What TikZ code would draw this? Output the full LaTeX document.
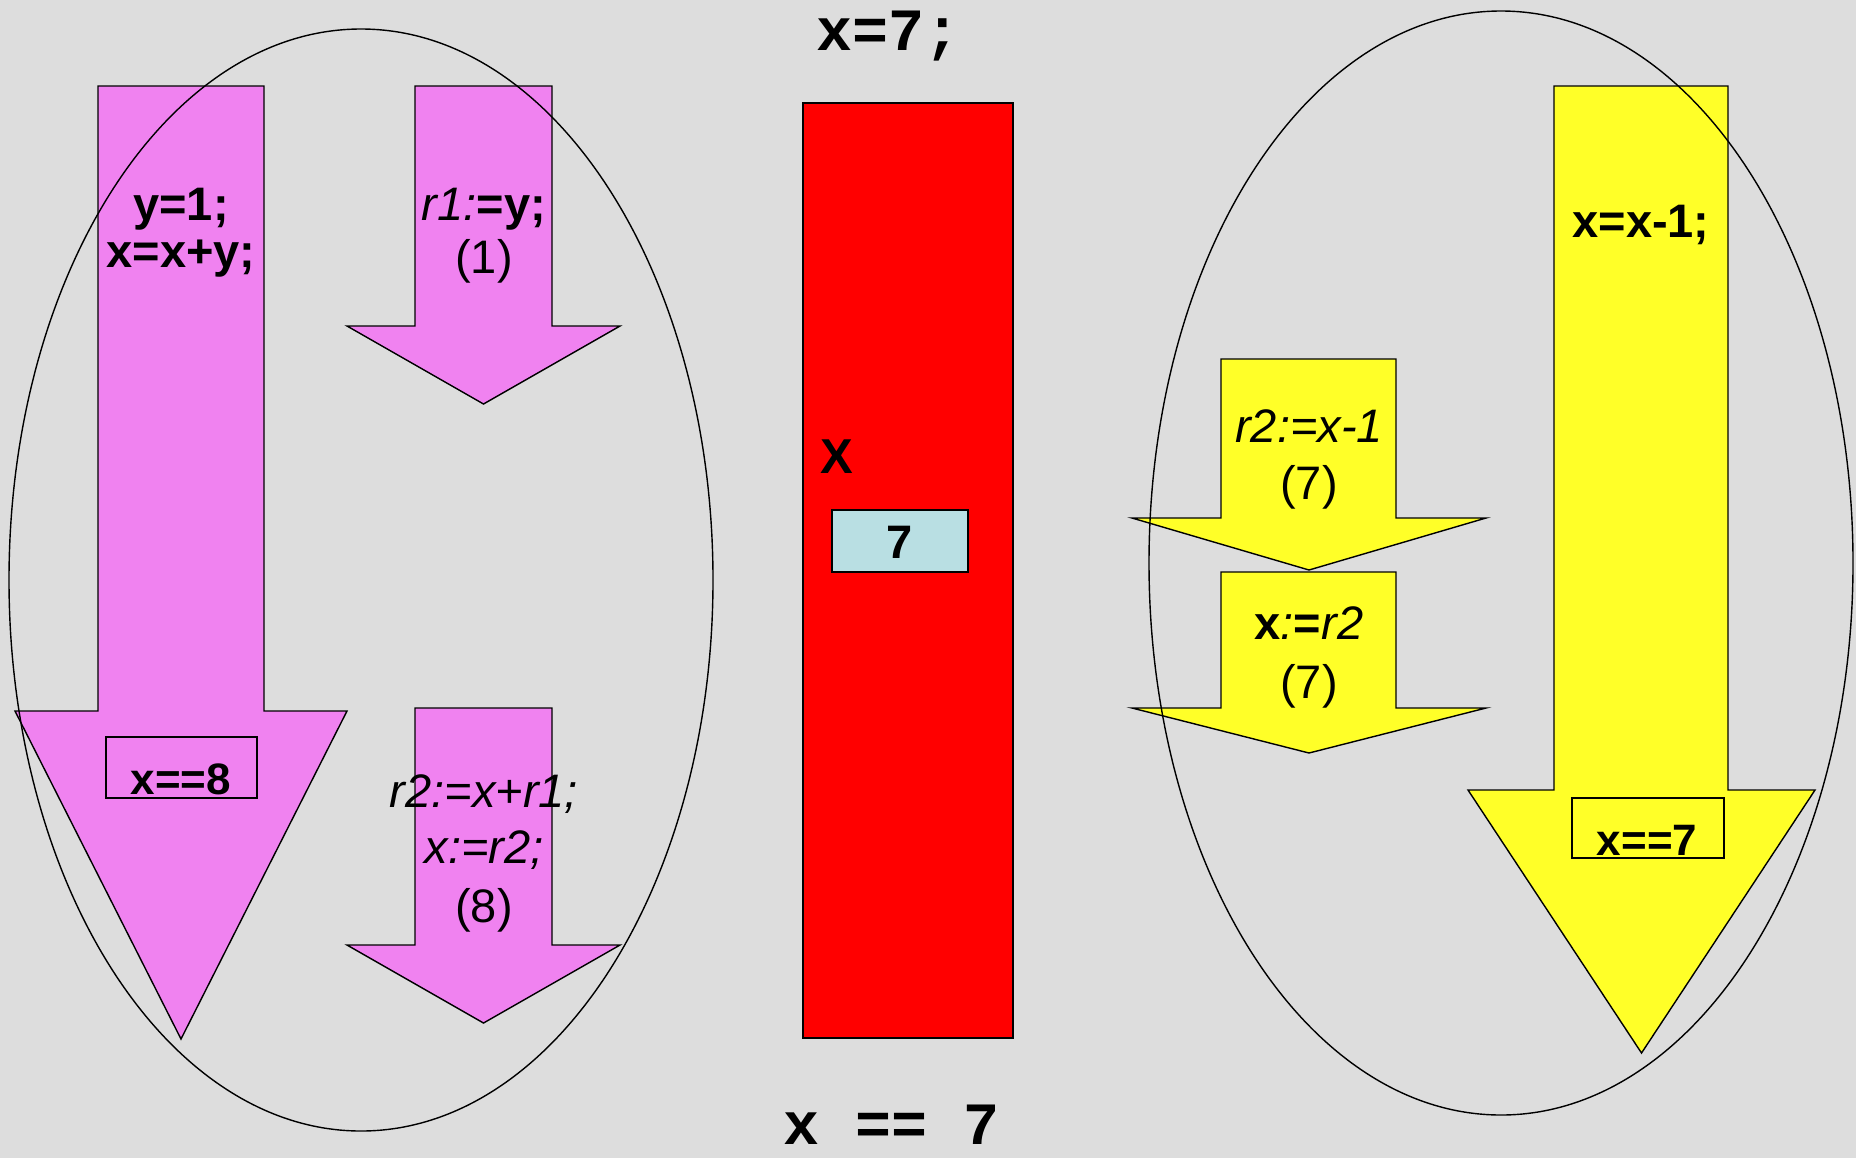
\documentclass[tikz,border=0pt]{standalone}
\usepackage{fontspec}
\setmainfont{Liberation Sans}
\newfontfamily\courfont{Liberation Mono}
\definecolor{bgc}{RGB}{221,221,221}
\definecolor{mag}{RGB}{240,130,240}
\definecolor{yel}{RGB}{255,255,40}
\definecolor{teal7}{RGB}{185,223,227}
\newcommand\dnarrow[8]{% color, x1, x2, ytop, yhead, hx1, hx2, tipy
  \filldraw[arrowshape, fill=#1] (#2,#4) -- (#3,#4) -- (#3,#5) -- (#7,#5)
    -- ({(#6+#7)/2},#8) -- (#6,#5) -- (#2,#5) -- cycle;}
\begin{document}
\begin{tikzpicture}[x=0.5pt, y=-0.5pt,
  arrowshape/.style={draw=black, line width=0.7pt, line join=miter},
  txt/.style={inner sep=0pt, anchor=base, font=\fontsize{23.5}{28}\selectfont},
  smalltxt/.style={inner sep=0pt, anchor=base, font=\fontsize{22}{26}\selectfont\bfseries},
  mono/.style={inner sep=0pt, anchor=base, font=\fontsize{30}{34}\selectfont\courfont\bfseries},
  ring/.style={draw=black, line width=0.7pt}]
\fill[bgc] (0,0) rectangle (1856,1158);
\useasboundingbox (0,0) rectangle (1856,1158);
% magenta arrows
\dnarrow{mag}{98}{264}{86}{711}{15}{347}{1039}
\dnarrow{mag}{415}{552}{86}{326}{347}{620}{404}
\dnarrow{mag}{415}{552}{708}{945}{347}{620}{1023}
% yellow arrows
\dnarrow{yel}{1554}{1728}{86}{790}{1468}{1815}{1053}
\dnarrow{yel}{1221}{1396}{359}{518}{1132}{1486}{570}
\dnarrow{yel}{1221}{1396}{572}{708}{1132}{1486}{753}
% memory cell
\node (mem) [fill=red, draw=black, line width=0.7pt, minimum width=105pt, minimum height=467.5pt, inner sep=0pt] at (908,570.5) {};
\node (xlab) [txt, font=\fontsize{24.5}{28}\selectfont\bfseries] at (837,473) {X};
\node (cell) [fill=teal7, draw=black, line width=0.7pt, minimum width=68pt, minimum height=31pt, inner sep=0pt] at (900,541) {};
\node (cellv) [txt, font=\fontsize{23.5}{28}\selectfont\bfseries] at (900,558) {7};
% assertion boxes
\node (box8) [draw=black, line width=0.7pt, minimum width=75.5pt, minimum height=30.5pt, inner sep=0pt] at (181.5,767.5) {};
\node (t8) [smalltxt] at (181,794) {x==8};
\node (box7) [draw=black, line width=0.7pt, minimum width=76pt, minimum height=30pt, inner sep=0pt] at (1648,828) {};
\node (t7) [smalltxt] at (1647,855) {x==7};
% texts in magenta arrows
\node (l1a) [txt, font=\fontsize{23.5}{28}\selectfont\bfseries] at (181,220) {y=1;};
\node (l1b) [txt, font=\fontsize{23.5}{28}\selectfont\bfseries] at (181,267) {x=x+y;};
\node (l2a) [txt] at (484,220) {\textit{r1:}\textbf{=y;}};
\node (l2b) [txt] at (484,273) {(1)};
\node (l3a) [txt] at (484,807) {\textit{r2:=x+r1;}};
\node (l3b) [txt] at (484,863) {\textit{x:=r2;}};
\node (l3c) [txt] at (484,922) {(8)};
% texts in yellow arrows
\node (y1a) [txt, font=\fontsize{23.5}{28}\selectfont\bfseries] at (1641,237) {x=x-1;};
\node (y2a) [txt] at (1309,442) {\textit{r2:=x-1}};
\node (y2b) [txt] at (1309,499) {(7)};
\node (y3a) [txt] at (1309,639) {\textbf{x}\textit{:}\textbf{=}\textit{r2}};
\node (y3b) [txt] at (1309,698) {(7)};
% code lines
\node (init) [mono] at (888,50) {x=7;};
\node (res) [mono] at (892,1144) {x == 7};
% thread ellipses
\draw[ring] (361,580) ellipse [x radius=176pt, y radius=275.5pt];
\draw[ring] (1501,563) ellipse [x radius=176pt, y radius=276pt];
\end{tikzpicture}
\end{document}
